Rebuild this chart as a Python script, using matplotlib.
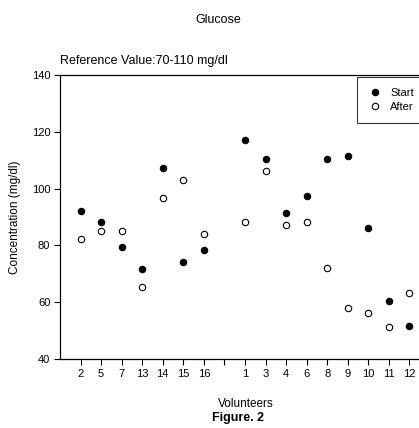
import matplotlib
matplotlib.use("Agg")
import matplotlib.pyplot as plt
import numpy as np

plt.rcParams['font.family'] = ['Liberation Sans Narrow', 'Liberation Sans', 'DejaVu Sans']

# volunteers in plotting order; the empty slot separates the two groups
volunteers = ["2", "5", "7", "13", "14", "15", "16", "", "1", "3", "4", "6", "8", "9", "10", "11", "12"]
start = [92.2, 88.1, 79.3, 71.7, 107.3, 74.2, 78.5, None,
         117.1, 110.4, 91.3, 97.4, 110.4, 111.5, 86.0, 60.5, 51.6]
after = [82.3, 85.2, 85.2, 65.2, 96.7, 103.1, 84.0, None,
         88.1, 106.3, 87.1, 88.1, 72.2, 58.1, 56.3, 51.3, 63.2]

pos = np.arange(1, len(volunteers) + 1)
start_arr = np.array([np.nan if v is None else v for v in start])
after_arr = np.array([np.nan if v is None else v for v in after])

fig = plt.figure(figsize=(4.19, 4.28), dpi=100)
ax = fig.add_axes([60 / 419, 69 / 428, 372 / 419, 284 / 428])

ax.plot(pos, start_arr, 'o', color='black', ms=4.6, mew=0.8, label='Start')
ax.plot(pos, after_arr, 'o', mfc='white', mec='black', ms=4.6, mew=0.8, label='After')

ax.set_xlim(0, 18.1)
ax.set_ylim(40, 140)
ax.set_xticks(pos)
ax.set_xticklabels(volunteers)
ax.set_yticks(range(40, 141, 20))
ax.tick_params(direction='out', length=4, width=0.8, labelsize=8, pad=3)
for s in ax.spines.values():
    s.set_linewidth(0.9)

ax.set_xlabel("Volunteers", fontsize=8.5, labelpad=14)
ax.set_ylabel("Concentration (mg/dl)", fontsize=8.5, labelpad=8)

fig.text(218 / 419, 1 - 20 / 428, "Glucose", ha='center', va='center', fontsize=9)
fig.text(60 / 419, 1 - 61 / 428, "Reference Value:70-110 mg/dl", ha='left', va='center', fontsize=9)
fig.text(238 / 419, 1 - 418 / 428, "Figure. 2", ha='center', va='center', fontsize=9, fontweight='bold')

leg = fig.legend(loc='upper left', bbox_to_anchor=(357 / 419, 1 - 77 / 428),
                 borderaxespad=0, fontsize=8, frameon=True, fancybox=False,
                 edgecolor='black', handlelength=1.2, handletextpad=0.8,
                 borderpad=1.0, labelspacing=0.35)
leg.get_frame().set_linewidth(0.8)

fig.savefig("out.png", dpi=100)
